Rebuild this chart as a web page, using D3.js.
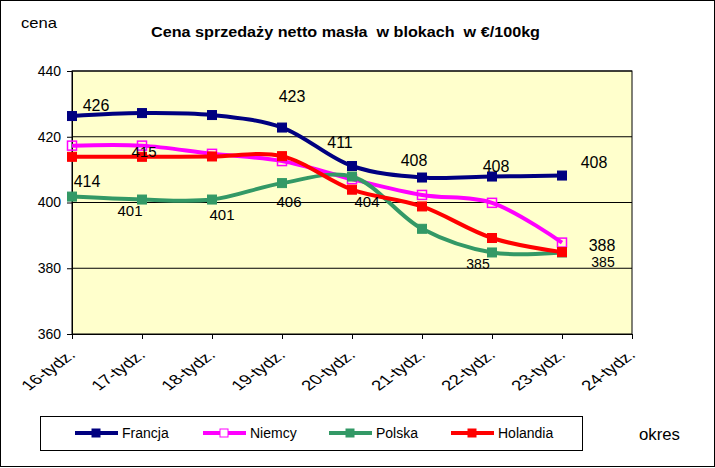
<!DOCTYPE html>
<html><head><meta charset="utf-8">
<script src="https://cdn.jsdelivr.net/npm/d3@7"></script>
<style>body{margin:0;background:#fff}svg{display:block;font-family:"Liberation Sans",Arial,sans-serif}</style>
</head><body><svg id="c" width="715" height="468"></svg>
<script>
const categories = ["16-tydz.","17-tydz.","18-tydz.","19-tydz.","20-tydz.","21-tydz.","22-tydz.","23-tydz.","24-tydz."];
const seriesNames = ["Francja","Niemcy","Polska","Holandia"];
const francja  = [426.3, 427.2, 426.6, 422.8, 411.1, 407.6, 407.9, 408.2];
const niemcy   = [417.3, 417.3, 414.8, 412.6, 407.1, 402.3, 399.9, 387.8];
const polska   = [401.8, 400.9, 400.9, 405.9, 407.9, 392.0, 384.8, 384.8];
const holandia = [413.9, 413.9, 414.0, 414.1, 403.9, 398.8, 389.2, 384.9];
const yTicks = [360, 380, 400, 420, 440];
const labelTexts = ["426","415","414","401","401","423","406","411","404","408","408","385","408","388","385"];
const labelCats  = [0, 1, 0, 1, 2, 3, 3, 4, 4, 5, 6, 6, 7, 7, 7];
const labelSeries= [0, 1, 3, 2, 2, 0, 2, 0, 3, 0, 0, 2, 0, 1, 2];
// placement offsets (dx, dy from point) and font sizes
const labelDx = [24, 2, 15, -12, 10, 10, 7, -12, 15, -8, 4, -14, 32, 40, 41];
const labelDy = [-9, 7, 26, 12, 16, -30, 20, -22, 13, -16, -9, 13, -12, 4, 11];
const labelSize=[16, 15, 16, 15, 15, 16, 15, 16, 15, 16, 16, 14, 16, 16, 14];

const data = [francja, niemcy, polska, holandia];
const colors = ["#000080","#FF00FF","#339966","#FF0000"];
const hollow = [false, true, false, false];

const svg = d3.select("#c");
const L = 72, R = 632, T = 71, B = 334;
const x = d3.scalePoint().domain(categories).range([L, R]);
const y = d3.scaleLinear().domain([360, 440]).range([B, T]);

svg.append("rect").attr("x",0.5).attr("y",0.5).attr("width",714).attr("height",466)
  .attr("fill","#fff").attr("stroke","#000");

svg.append("rect").attr("x",L).attr("y",T).attr("width",R-L).attr("height",B-T)
  .attr("fill","#FFFFCC").attr("stroke","#000").attr("stroke-width",1);

svg.append("g").selectAll("line").data(yTicks.slice(1)).join("line")
  .attr("x1",L).attr("x2",R).attr("y1",d=>y(d)).attr("y2",d=>y(d))
  .attr("stroke","#000").attr("stroke-width",1);

const yAxis = svg.append("g").attr("transform",`translate(${L},0)`)
  .call(d3.axisLeft(y).tickValues(yTicks).tickSize(5).tickPadding(6));
yAxis.select(".domain").attr("stroke","#000");
yAxis.selectAll("text").attr("font-size",14).attr("fill","#000").attr("font-family","Liberation Sans, Arial");

const xAxis = svg.append("g").attr("transform",`translate(0,${B})`)
  .call(d3.axisBottom(x).tickSize(5).tickPadding(0));
xAxis.select(".domain").attr("stroke","#000");
xAxis.selectAll("text").attr("font-size",14).attr("fill","#000")
  .attr("font-family","Liberation Sans, Arial")
  .attr("text-anchor","end").attr("x",0).attr("y",0).attr("dy",0)
  .attr("transform","translate(4,22) scale(1.35,1) rotate(-45)");

const line = d3.line().x((d,i)=>x(categories[i])).y(d=>y(d)).curve(d3.curveCatmullRom.alpha(0.5));

data.forEach((s,k)=>{
  const g = svg.append("g");
  g.append("path").attr("d",line(s)).attr("fill","none").attr("stroke",colors[k]).attr("stroke-width",4);
  g.selectAll("rect").data(s).join("rect")
    .attr("x",(d,i)=>x(categories[i])-4.5).attr("y",d=>y(d)-4.5)
    .attr("width",9).attr("height",9)
    .attr("fill",hollow[k] ? "none" : colors[k])
    .attr("stroke",colors[k]).attr("stroke-width",hollow[k]?1.5:1);
});

svg.append("g").selectAll("text").data(labelTexts).join("text")
  .attr("x",(t,i)=>x(categories[labelCats[i]])+labelDx[i])
  .attr("y",(t,i)=>y(data[labelSeries[i]][labelCats[i]])+labelDy[i])
  .attr("text-anchor","middle").attr("dominant-baseline","middle")
  .attr("font-size",(t,i)=>labelSize[i]).attr("fill","#000").text(t=>t);

svg.append("text").attr("x",151).attr("y",37)
  .attr("font-size",14).attr("font-weight","bold")
  .attr("textLength",389).attr("lengthAdjust","spacingAndGlyphs")
  .attr("xml:space","preserve").style("white-space","pre")
  .text("Cena sprzedaży netto masła  w blokach  w €/100kg");
svg.append("text").attr("x",21).attr("y",28).attr("font-size",15)
  .attr("textLength",36).attr("lengthAdjust","spacingAndGlyphs").text("cena");
svg.append("text").attr("x",639).attr("y",440).attr("font-size",16)
  .attr("textLength",41).attr("lengthAdjust","spacingAndGlyphs").text("okres");

svg.append("rect").attr("x",40.5).attr("y",416.5).attr("width",542).attr("height",34)
  .attr("fill","#fff").attr("stroke","#000");
const legX = [75, 203, 329, 451];
const lg = svg.append("g").selectAll("g").data(seriesNames).join("g")
  .attr("transform",(d,i)=>`translate(${legX[i]},433)`);
lg.append("line").attr("x1",0).attr("x2",43).attr("stroke",(d,i)=>colors[i]).attr("stroke-width",4);
lg.append("rect").attr("x",17).attr("y",-4).attr("width",8).attr("height",8)
  .attr("fill",(d,i)=>hollow[i]?"#FFFFFF":colors[i]).attr("stroke",(d,i)=>colors[i]);
lg.append("text").attr("x",47).attr("y",5).attr("font-size",14).text(d=>d);
</script></body></html>
